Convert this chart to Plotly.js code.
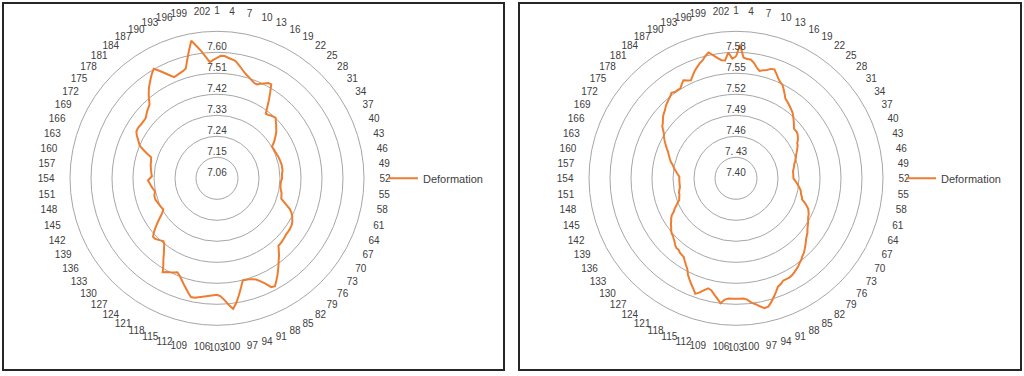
<!DOCTYPE html>
<html><head><meta charset="utf-8">
<script src="https://cdn.plot.ly/plotly-3.0.1.min.js"></script>
<style>
body{margin:0;background:#fff;width:1024px;height:376px;overflow:hidden;position:relative;}
.panel{position:absolute;box-sizing:border-box;border:2px solid #262626;background:#fff;}
.plot{width:100%;height:100%;}
</style></head><body>
<div class="panel" style="left:2px;top:2px;width:503px;height:369px"><div id="c1" class="plot"></div></div>
<div class="panel" style="left:518px;top:2px;width:504px;height:369px"><div id="c2" class="plot"></div></div>
<script>
// categories 1..204, labelled every third
const categoryCount = 204;
const categories = Array.from({length: categoryCount}, (_, i) => i + 1);
const categoryLabels = categories.filter(c => (c - 1) % 3 === 0).map(String);

const seriesName = 'Deformation';

// left chart
const leftValues = [
7.576,7.585,7.585,7.579,7.574,7.570,7.557,7.544,7.531,7.521,
7.514,7.506,7.499,7.497,7.506,7.514,7.523,7.525,7.493,7.463,
7.433,7.407,7.409,7.414,7.418,7.421,7.411,7.403,7.394,7.386,
7.377,7.366,7.356,7.345,7.332,7.332,7.334,7.334,7.336,7.336,
7.339,7.339,7.341,7.341,7.343,7.343,7.343,7.343,7.341,7.339,
7.339,7.339,7.336,7.334,7.334,7.334,7.336,7.339,7.343,7.345,
7.347,7.349,7.364,7.381,7.399,7.411,7.420,7.426,7.433,7.437,
7.439,7.441,7.441,7.441,7.444,7.446,7.448,7.450,7.451,7.467,
7.484,7.499,7.516,7.534,7.551,7.568,7.585,7.581,7.557,7.540,
7.525,7.519,7.514,7.512,7.512,7.540,7.570,7.600,7.624,7.604,
7.583,7.566,7.559,7.561,7.564,7.568,7.572,7.576,7.581,7.581,
7.566,7.549,7.534,7.519,7.506,7.497,7.504,7.510,7.516,7.525,
7.497,7.476,7.454,7.437,7.420,7.414,7.420,7.426,7.431,7.431,
7.416,7.399,7.381,7.364,7.347,7.334,7.326,7.328,7.330,7.332,
7.334,7.336,7.339,7.339,7.339,7.336,7.332,7.334,7.339,7.343,
7.347,7.351,7.356,7.347,7.339,7.341,7.343,7.345,7.347,7.349,
7.351,7.351,7.354,7.356,7.377,7.399,7.420,7.429,7.439,7.450,
7.459,7.461,7.461,7.459,7.459,7.459,7.461,7.469,7.476,7.482,
7.489,7.508,7.527,7.544,7.559,7.574,7.589,7.602,7.583,7.564,
7.546,7.531,7.534,7.538,7.542,7.549,7.583,7.621,7.660,7.634,
7.609,7.583,7.559,7.568];
const leftRadialMin = 7.06, leftRadialMax = 7.69;
const leftRings = [7.15, 7.24, 7.33, 7.42, 7.51, 7.60];
const leftLabelValues = [7.06, 7.15, 7.24, 7.33, 7.42, 7.51, 7.60];
const leftLabelText = ['7.06','7.15','7.24','7.33','7.42','7.51','7.60'];

// right chart
const rightValues = [
7.574,7.591,7.573,7.571,7.571,7.567,7.561,7.557,7.559,7.561,
7.564,7.565,7.560,7.555,7.551,7.549,7.544,7.539,7.534,7.532,
7.530,7.528,7.526,7.524,7.521,7.518,7.515,7.512,7.509,7.509,
7.509,7.508,7.506,7.504,7.501,7.500,7.498,7.496,7.494,7.492,
7.491,7.489,7.488,7.486,7.485,7.484,7.483,7.482,7.482,7.482,
7.482,7.482,7.484,7.486,7.488,7.490,7.492,7.494,7.495,7.496,
7.498,7.499,7.504,7.508,7.512,7.514,7.516,7.517,7.519,7.521,
7.523,7.525,7.528,7.530,7.532,7.535,7.538,7.541,7.544,7.546,
7.549,7.551,7.554,7.556,7.558,7.560,7.561,7.561,7.561,7.564,
7.566,7.572,7.578,7.584,7.589,7.590,7.586,7.582,7.579,7.574,
7.572,7.572,7.572,7.572,7.572,7.574,7.580,7.574,7.569,7.564,
7.562,7.566,7.571,7.575,7.569,7.564,7.559,7.554,7.547,7.543,
7.539,7.535,7.534,7.533,7.531,7.531,7.529,7.526,7.524,7.522,
7.521,7.519,7.516,7.514,7.511,7.509,7.506,7.501,7.498,7.494,
7.491,7.487,7.486,7.485,7.484,7.484,7.483,7.482,7.481,7.481,
7.481,7.481,7.481,7.481,7.481,7.483,7.485,7.487,7.489,7.491,
7.493,7.496,7.498,7.500,7.502,7.504,7.507,7.510,7.513,7.516,
7.519,7.521,7.525,7.529,7.531,7.534,7.537,7.539,7.541,7.544,
7.546,7.548,7.550,7.553,7.551,7.551,7.551,7.555,7.559,7.556,
7.554,7.559,7.564,7.568,7.572,7.575,7.580,7.584,7.579,7.574,
7.570,7.569,7.580,7.571];
const rightRadialMin = 7.40, rightRadialMax = 7.61;
const rightRings = [7.43, 7.46, 7.49, 7.52, 7.55, 7.58];
const rightLabelValues = [7.40, 7.43, 7.46, 7.49, 7.52, 7.55, 7.58];
const rightLabelText = ['7.40','7. 43','7.46','7.49','7.52','7.55','7.58'];

const FONT = '"Liberation Sans", Arial, sans-serif';
const TEXT_COLOR = '#404040';
const GRID = '#a6a6a6';
const LINE_COLOR = '#ED7D31';

function draw(id, W, H, cx, cy, R, values, rmin, rmax, rings, labelVals, labelText, legendTextX) {
  const step = 360 / categoryCount;
  const theta = categories.map(c => (c - 1) * step);
  const tickAngles = categories.filter(c => (c - 1) % 3 === 0).map(c => (c - 1) * step);
  const data = [
    {type: 'scatterpolar', mode: 'lines', name: seriesName,
     r: values.concat([values[0]]), theta: theta.concat([theta[0]]),
     line: {color: LINE_COLOR, width: 2}, hoverinfo: 'skip'},
    {type: 'scatterpolar', mode: 'text', showlegend: false,
     r: labelVals, theta: labelVals.map(() => 0), text: labelText,
     textposition: 'top center', textfont: {family: FONT, size: 10, color: TEXT_COLOR},
     hoverinfo: 'skip', cliponaxis: false}
  ];
  const layout = {
    width: W, height: H, margin: {l: 0, r: 0, t: 0, b: 0},
    paper_bgcolor: '#fff', font: {family: FONT, color: TEXT_COLOR},
    showlegend: true,
    legend: {x: (legendTextX - 40) / W, xanchor: 'left', y: (H - cy) / H, yanchor: 'middle',
             font: {family: FONT, size: 11, color: TEXT_COLOR}, bgcolor: 'rgba(0,0,0,0)'},
    polar: {
      domain: {x: [(cx - R) / W, (cx + R) / W], y: [(H - cy - R) / H, (H - cy + R) / H]},
      bgcolor: 'rgba(0,0,0,0)',
      radialaxis: {range: [rmin, rmax], tickmode: 'array', tickvals: rings, showticklabels: false,
                   ticks: '', showline: false, gridcolor: GRID, gridwidth: 1},
      angularaxis: {rotation: 90, direction: 'clockwise', tickmode: 'array', tickvals: tickAngles,
                    ticktext: categoryLabels, showgrid: false, showline: true, linecolor: GRID,
                    linewidth: 1, ticks: 'outside', ticklen: 13, tickcolor: 'rgba(0,0,0,0)',
                    tickfont: {family: FONT, size: 10, color: TEXT_COLOR}}
    }
  };
  Plotly.newPlot(id, data, layout, {staticPlot: true, displayModeBar: false});
}

draw('c1', 499, 365, 213, 174.3, 147, leftValues, leftRadialMin, leftRadialMax,
     leftRings, leftLabelValues, leftLabelText, 419);
draw('c2', 500, 365, 216, 174.3, 147, rightValues, rightRadialMin, rightRadialMax,
     rightRings, rightLabelValues, rightLabelText, 421);
</script>
</body></html>
